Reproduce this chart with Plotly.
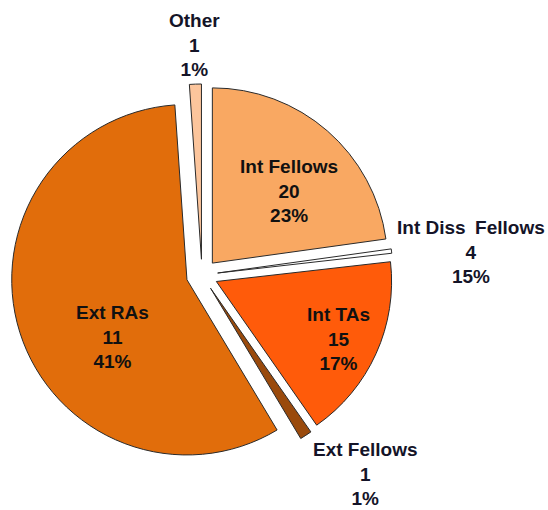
import plotly.graph_objects as go

categories = ["Int Fellows", "Int Diss\u2002Fellows", "Int TAs", "Ext Fellows", "Ext RAs", "Other"]
counts = [20, 4, 15, 1, 11, 1]
pct_labels = ["23%", "15%", "17%", "1%", "41%", "1%"]
# slice sizes as drawn in the picture (percent of circle)
shares = [22.8, 0.4, 17.1, 1.1, 57.5, 1.1]

colors = ["#F9A862", "#FFFFFF", "#FF5B0A", "#9A4A0C", "#E16D0B", "#FCC59C"]

W, H = 548, 510
# label anchor points in pixels (layout only)
label_px = [(289, 191), (471, 252), (338, 339), (365, 474), (112, 337), (194, 45)]
label_colors = ["#111111", "#141428", "#111111", "#141428", "#111111", "#141428"]

FONT = "Liberation Sans, Arial, sans-serif"

fig = go.Figure(go.Pie(
    labels=categories,
    values=shares,
    textinfo="none",
    sort=False,
    direction="clockwise",
    rotation=0,
    pull=[0.09] * 6,
    marker=dict(colors=colors, line=dict(color="#2a2a2a", width=1)),
    hoverinfo="label",
    domain=dict(x=[11 / W, 393 / W], y=[1 - 466 / H, 1 - 84 / H]),
    showlegend=False,
))

for cat, n, p, (px, py), col in zip(categories, counts, pct_labels, label_px, label_colors):
    fig.add_annotation(
        x=px / W, y=1 - py / H, xref="paper", yref="paper",
        text=f"<b>{cat}<br>{n}<br>{p}</b>",
        showarrow=False, xanchor="center", yanchor="middle", align="center",
        font=dict(family=FONT, size=19, color=col),
    )

fig.update_layout(
    width=W, height=H,
    margin=dict(l=0, r=0, t=0, b=0),
    paper_bgcolor="white",
    plot_bgcolor="white",
    font=dict(family=FONT, size=19),
)

fig.write_html("out.html", config={"displayModeBar": False},
               post_script="document.body.style.margin='0';")
